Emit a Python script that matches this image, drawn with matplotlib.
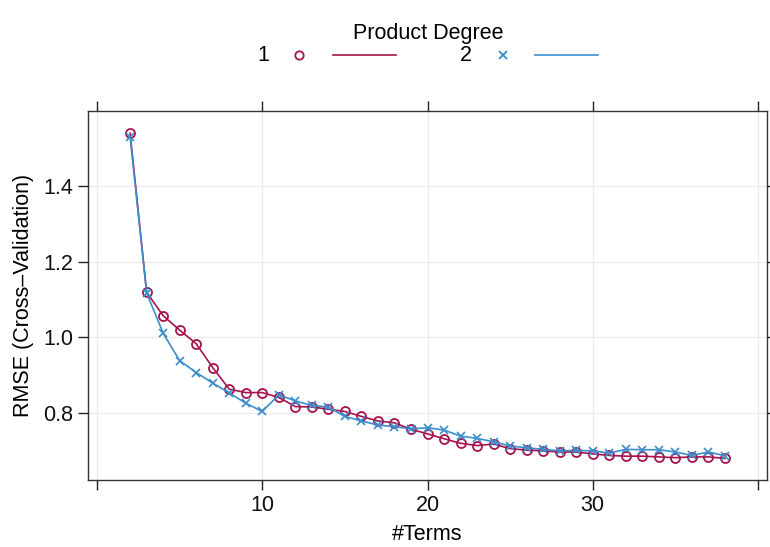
import numpy as np
import matplotlib
matplotlib.use('Agg')
import matplotlib.pyplot as plt
from matplotlib.lines import Line2D

plt.rcParams['font.family'] = ['Liberation Sans', 'DejaVu Sans']

""" Data (read off the reference) """
terms = list(range(2, 39))
rmse_deg1 = [1.539, 1.119, 1.057, 1.019, 0.983, 0.920, 0.863, 0.854, 0.854, 0.841,
             0.817, 0.816, 0.810, 0.804, 0.791, 0.779, 0.774, 0.757, 0.745, 0.732,
             0.720, 0.714, 0.718, 0.706, 0.702, 0.700, 0.697, 0.697, 0.692, 0.688,
             0.686, 0.686, 0.684, 0.682, 0.684, 0.684, 0.680]
rmse_deg2 = [1.530, 1.117, 1.011, 0.938, 0.907, 0.879, 0.853, 0.826, 0.804, 0.848,
             0.832, 0.820, 0.816, 0.791, 0.779, 0.768, 0.764, 0.758, 0.761, 0.755,
             0.739, 0.733, 0.724, 0.713, 0.708, 0.704, 0.700, 0.701, 0.700, 0.694,
             0.704, 0.703, 0.703, 0.697, 0.688, 0.697, 0.687]
degrees = ['1', '2']
x_ticks = [0, 10, 20, 30, 40]
x_labels = ['', '10', '20', '30', '']
y_ticks = [0.8, 1.0, 1.2, 1.4]

red = '#A6124D'
blue = '#3B8ECB'
fs = 15.5

""" Plot """
W, H = 770, 547
fig = plt.figure(figsize=(W / 100, H / 100), dpi=100)
ax = fig.add_axes([88 / W, 1 - 480 / H, (767 - 88) / W, (480 - 111) / H])

ax.plot(terms, rmse_deg1, color=red, lw=1.2, marker='o', ms=6.5, mfc='none',
        mec=red, mew=1.3, zorder=3)
ax.plot(terms, rmse_deg2, color=blue, lw=1.2, marker='x', ms=6, mec=blue,
        mew=1.2, zorder=3)

ax.set_xlim(-0.55, 40.55)
ax.set_ylim(0.623, 1.598)
ax.set_xticks(x_ticks)
ax.set_xticklabels(x_labels)
ax.set_yticks(y_ticks)
ax.set_yticklabels(['%.1f' % v for v in y_ticks])
ax.grid(True, color='#EBEBEB', lw=1)
ax.set_axisbelow(True)
ax.tick_params(direction='out', length=7.5, width=1, colors='#222222',
               labelsize=fs, top=True, right=True, pad=3)
ax.tick_params(labelcolor='#111111')
for s in ax.spines.values():
    s.set_color('#333333')
    s.set_linewidth(1)

ax.set_xlabel('#Terms', fontsize=fs, labelpad=6)
ax.set_ylabel('RMSE (Cross\u2013Validation)', fontsize=fs, labelpad=7)

""" Legend """
fig.text(428 / W, 1 - 33 / H, 'Product Degree', ha='center', va='center', fontsize=fs)
ly = 1 - 55 / H
for lab, col, mk, xt, xm, xl0, xl1 in [
        (degrees[0], red, 'o', 263, 299, 333, 396),
        (degrees[1], blue, 'x', 466, 503, 535, 598)]:
    fig.text(xt / W, ly, lab, ha='center', va='center', fontsize=fs)
    fig.add_artist(Line2D([xm / W], [ly], marker=mk, ms=6, mfc='none', mec=col,
                          mew=1.3, transform=fig.transFigure))
    fig.add_artist(Line2D([xl0 / W, xl1 / W], [ly, ly], color=col, lw=1.2,
                          transform=fig.transFigure))

fig.savefig('out.png', dpi=100)
